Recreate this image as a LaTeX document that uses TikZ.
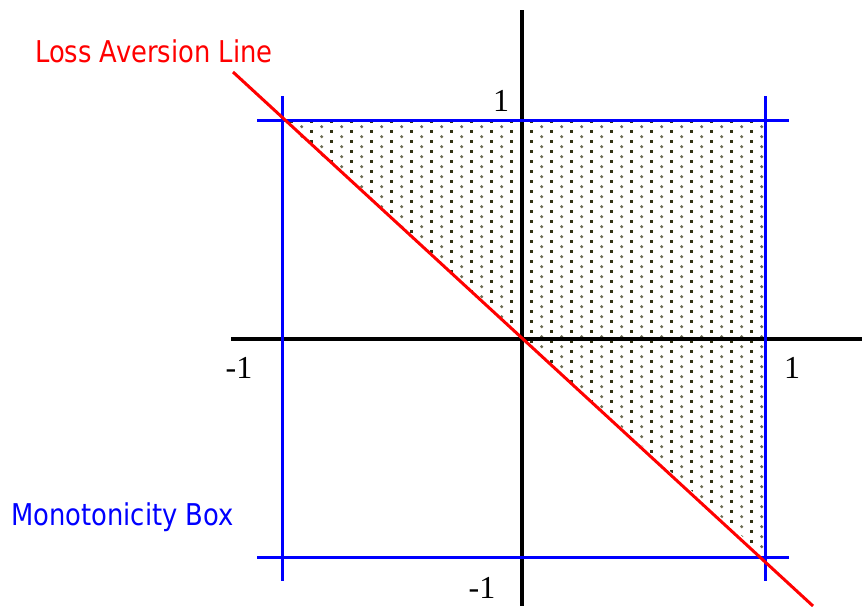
\documentclass[tikz,border=0pt]{standalone}
\usepackage{fontspec}
\setmainfont{Liberation Serif}
\newfontfamily\lblfont[FakeStretch=0.86]{DejaVu Sans}
\definecolor{dotdark}{RGB}{50,50,20}
\definecolor{dotlight}{RGB}{110,110,85}
\begin{document}
\begin{tikzpicture}[x=1pt,y=-1pt,
  axis/.style={black,line width=3.3pt},
  boxline/.style={blue,line width=3pt},
  lossline/.style={red,line width=3pt},
  numlbl/.style={font=\fontsize{32}{36}\selectfont,inner sep=0pt},
  txtlbl/.style={font=\lblfont\fontsize{30}{34}\selectfont,inner sep=0pt,anchor=base west}]
\useasboundingbox (0,0) rectangle (862,606);
% key points
\coordinate (O) at (522,339);
\coordinate (TL) at (282,120);
\coordinate (TR) at (765,120);
\coordinate (BR) at (765,557);
\coordinate (BL) at (282,557);
% dotted region
\begin{scope}
  \clip (TL) -- (TR) -- (BR) -- cycle;
  \foreach \k in {0,...,49}{
    \pgfmathsetmacro{\xx}{281.7+10*\k}
    \ifodd\k
      \foreach \j in {0,...,44}{
        \fill[dotdark] (\xx-1.4,{121.7+10*\j-1.4}) rectangle ++(2.8,2.8);
      }
    \else
      \foreach \j in {0,...,44}{
        \fill[dotlight] (\xx,{126.7+10*\j}) circle (1.7);
      }
    \fi
  }
\end{scope}
% axes
\coordinate (xa) at (231,339);
\coordinate (xb) at (862,339);
\coordinate (ya) at (522,10);
\coordinate (yb) at (522,606);
\draw[axis] (xa) -- (xb);
\draw[axis] (ya) -- (yb);
% monotonicity box
\draw[boxline] (257,120) -- (789,120);
\draw[boxline] (257,557) -- (789,557);
\draw[boxline] (282,96) -- (282,581);
\draw[boxline] (765,96) -- (765,581);
% loss aversion line
\coordinate (la) at (233,72);
\coordinate (lb) at (813,606);
\draw[lossline] (la) -- (lb);
% labels
\node[txtlbl,red] (losslbl) at (35,62) {Loss Aversion Line};
\node[txtlbl,blue] (monolbl) at (11,525) {Monotonicity Box};
\node[numlbl] (ytop) at (501,101) {1};
\node[numlbl] (ybot) at (482,588) {-1};
\node[numlbl] (xleft) at (239,368) {-1};
\node[numlbl] (xright) at (792,368) {1};
\end{tikzpicture}
\end{document}
